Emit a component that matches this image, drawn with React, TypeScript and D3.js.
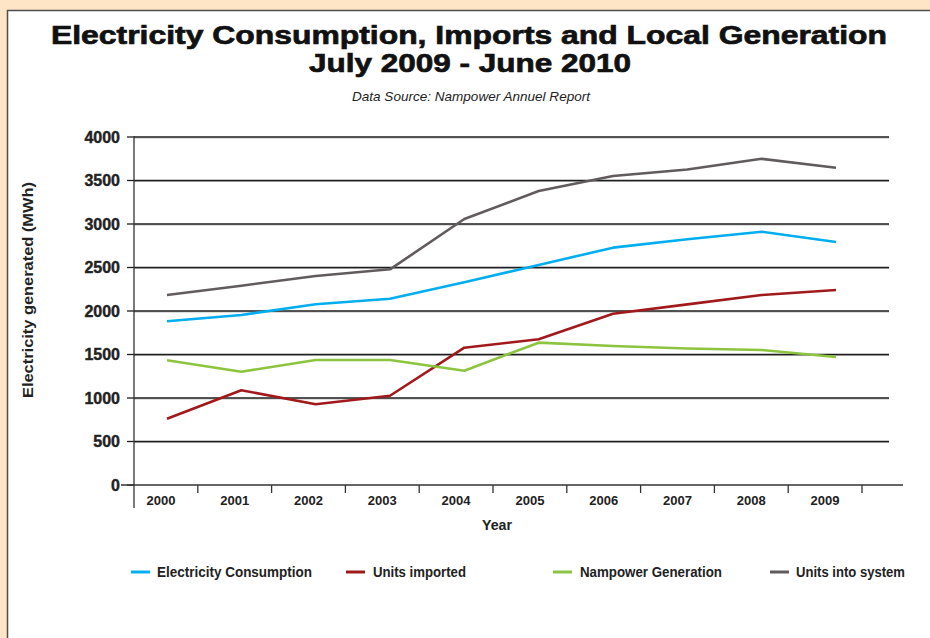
import React from 'react';
import * as d3 from 'd3';

const years = ['2000', '2001', '2002', '2003', '2004', '2005', '2006', '2007', '2008', '2009'];
const consumption = [1882, 1954, 2077, 2141, 2330, 2529, 2728, 2824, 2911, 2793];
const imported = [762, 1089, 928, 1026, 1578, 1675, 1969, 2076, 2184, 2241];
const generation = [1433, 1302, 1437, 1437, 1314, 1636, 1598, 1569, 1552, 1471];
const intoSystem = [2184, 2291, 2402, 2479, 3057, 3379, 3552, 3626, 3749, 3647];
const yTicks = [0, 500, 1000, 1500, 2000, 2500, 3000, 3500, 4000];
const seriesNames = ['Electricity Consumption', 'Units imported', 'Nampower Generation', 'Units into system'];

const W = 930;
const H = 638;

const series = [
  { name: seriesNames[0], values: consumption, color: '#00AEEF' },
  { name: seriesNames[1], values: imported, color: '#A01A1C' },
  { name: seriesNames[2], values: generation, color: '#8DC43F' },
  { name: seriesNames[3], values: intoSystem, color: '#615B5E' },
];

const legendLayout = [
  { lx: 131, tx: 157, tw: 155 },
  { lx: 346, tx: 373, tw: 93 },
  { lx: 553, tx: 580, tw: 142 },
  { lx: 770, tx: 796, tw: 109 },
];

export default function App() {
  const y = d3.scaleLinear().domain([0, 4000]).range([485, 137]);
  const xBand = d3.scaleBand<string>().domain(years).range([124, 862]).paddingInner(0).paddingOuter(0);
  const xPt = d3.scalePoint<string>().domain(years).range([167, 836]);
  const line = d3
    .line<number>()
    .x((_, i) => xPt(years[i]) as number)
    .y((d) => y(d));

  const font = "'Liberation Sans', Arial, sans-serif";

  return (
    <svg width={W} height={H} style={{ position: 'absolute', left: 0, top: 0 }} fontFamily={font}>
      <rect x={0} y={0} width={W} height={H} fill="#FDE5C6" />
      <rect x={7.5} y={10.5} width={W} height={H} fill="#FFFFFF" stroke="#4E4E4E" strokeWidth={1.5} />

      <text x={469} y={44} textAnchor="middle" fontSize={26} fontWeight={900} fill="#111" stroke="#111" strokeWidth={0.7} textLength={836} lengthAdjust="spacingAndGlyphs">
        Electricity Consumption, Imports and Local Generation
      </text>
      <text x={470} y={72} textAnchor="middle" fontSize={26} fontWeight={900} fill="#111" stroke="#111" strokeWidth={0.7} textLength={322} lengthAdjust="spacingAndGlyphs">
        July 2009 - June 2010
      </text>
      <text x={471} y={101} textAnchor="middle" fontSize={13} fontStyle="italic" fill="#222" textLength={238} lengthAdjust="spacingAndGlyphs">
        Data Source: Nampower Annuel Report
      </text>

      {/* gridlines */}
      {yTicks.map((t) => (
        <g key={t}>
          {t > 0 && <line x1={134} x2={889} y1={y(t) + 1} y2={y(t) + 1} stroke="#BBBBBB" strokeWidth={1} />}
          {t > 0 && <line x1={134} x2={889} y1={y(t)} y2={y(t)} stroke="#1E1E1E" strokeWidth={1.3} />}
          <line x1={127} x2={134} y1={y(t)} y2={y(t)} stroke="#1E1E1E" strokeWidth={1.3} />
          <text x={120} y={y(t) + 5.5} textAnchor="end" fontSize={16} fontWeight={900} fill="#222" stroke="#222" strokeWidth={0.4}>
            {t}
          </text>
        </g>
      ))}

      {/* axes */}
      <line x1={134} x2={134} y1={136} y2={508} stroke="#333" strokeWidth={1.3} />
      <line x1={121} x2={903} y1={485} y2={485} stroke="#333" strokeWidth={1.3} />
      {years.map((yr) => {
        const x0 = (xBand(yr) as number) + xBand.bandwidth();
        return <line key={'t' + yr} x1={x0} x2={x0} y1={485} y2={493} stroke="#333" strokeWidth={1.3} />;
      })}
      {years.map((yr) => (
        <text key={'l' + yr} x={(xBand(yr) as number) + xBand.bandwidth() / 2} y={505} textAnchor="middle" fontSize={13} fontWeight={700} fill="#222" textLength={29} lengthAdjust="spacingAndGlyphs">
          {yr}
        </text>
      ))}
      <text x={497} y={530} textAnchor="middle" fontSize={14} fontWeight={700} fill="#222" textLength={30} lengthAdjust="spacingAndGlyphs">
        Year
      </text>
      <text transform="translate(33,290) rotate(-90)" textAnchor="middle" fontSize={14} fontWeight={700} fill="#222" textLength={216} lengthAdjust="spacingAndGlyphs">
        Electricity generated (MWh)
      </text>

      {/* lines */}
      {series.map((s) => (
        <path key={s.name} d={line(s.values) as string} fill="none" stroke={s.color} strokeWidth={2.6} strokeLinejoin="round" />
      ))}

      {/* legend */}
      {series.map((s, i) => (
        <g key={'lg' + s.name}>
          <line x1={legendLayout[i].lx} x2={legendLayout[i].lx + 19} y1={572} y2={572} stroke={s.color} strokeWidth={3} />
          <text x={legendLayout[i].tx} y={577} fontSize={15} fontWeight={700} fill="#222" textLength={legendLayout[i].tw} lengthAdjust="spacingAndGlyphs">
            {s.name}
          </text>
        </g>
      ))}
    </svg>
  );
}
